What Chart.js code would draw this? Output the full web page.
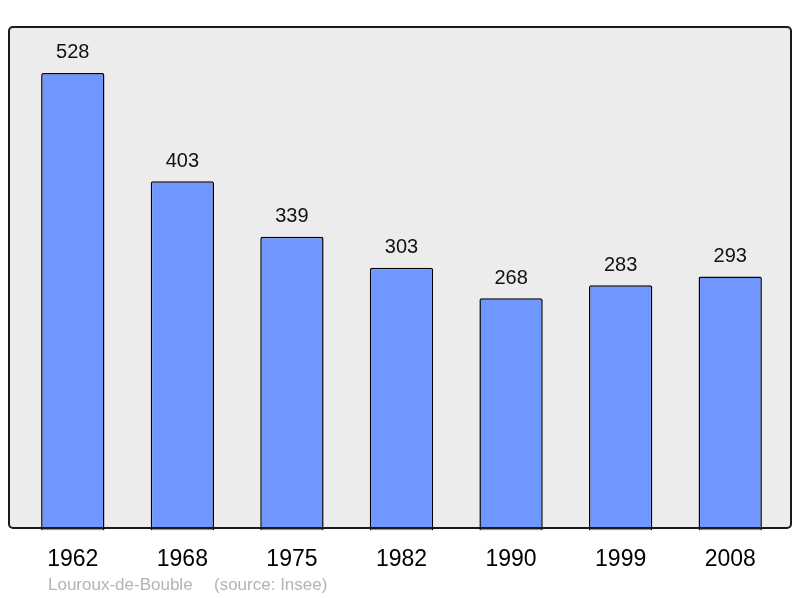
<!DOCTYPE html>
<html>
<head>
<meta charset="utf-8">
<script src="https://cdn.jsdelivr.net/npm/chart.js@4/dist/chart.umd.min.js"></script>
<style>
  html, body { margin: 0; padding: 0; background: #fff; }
  #wrap { width: 800px; height: 598px; }
</style>
</head>
<body>
<div id="wrap"><canvas id="popChart" width="800" height="598"></canvas></div>
<script>
const years = ['1962', '1968', '1975', '1982', '1990', '1999', '2008'];
const population = [528, 403, 339, 303, 268, 283, 293];
const yMax = 581;
const place = 'Louroux-de-Bouble';
const source = '(source: Insee)';

const fontFam = '"Liberation Sans", Arial, sans-serif';

// grey panel behind the bars, border drawn on top
const panel = {
    id: 'panel',
    beforeDatasetsDraw(chart) {
        const c = chart.ctx;
        c.save();
        c.beginPath();
        c.roundRect(9, 27, 782, 501, 4);
        c.fillStyle = '#ececec';
        c.fill();
        c.restore();
    },
    afterDatasetsDraw(chart) {
        const c = chart.ctx;
        c.save();
        c.beginPath();
        c.roundRect(9, 27, 782, 501, 4);
        c.lineWidth = 2;
        c.strokeStyle = '#1a1a1a';
        c.stroke();

        // value labels above bars
        const meta = chart.getDatasetMeta(0);
        c.font = '20px ' + fontFam;
        c.fillStyle = '#111';
        c.textAlign = 'center';
        c.textBaseline = 'middle';
        meta.data.forEach((bar, i) => {
            c.fillText(String(population[i]), bar.x, bar.y - 20);
        });

        // footer
        c.font = '17px ' + fontFam;
        c.fillStyle = '#b3b3b3';
        c.textAlign = 'left';
        c.fillText(place, 48, 585);
        c.fillText(source, 214, 585);
        c.restore();
    }
};

new Chart(document.getElementById('popChart').getContext('2d'), {
    type: 'bar',
    data: {
        labels: years,
        datasets: [{
            data: population,
            backgroundColor: '#7096ff',
            borderColor: '#000',
            borderWidth: 1.5,
            borderRadius: 2,
            categoryPercentage: 1,
            barPercentage: 0.578
        }]
    },
    options: {
        responsive: false,
        animation: false,
        devicePixelRatio: 1,
        layout: { padding: { left: 18, right: 15, top: 27, bottom: 10 } },
        plugins: { legend: { display: false }, tooltip: { enabled: false } },
        scales: {
            x: {
                grid: { display: false, drawTicks: false },
                border: { display: false },
                ticks: { color: '#000', font: { family: fontFam, size: 23 }, padding: 15 }
            },
            y: { display: false, min: 0, max: yMax }
        }
    },
    plugins: [panel]
});
</script>
</body>
</html>
